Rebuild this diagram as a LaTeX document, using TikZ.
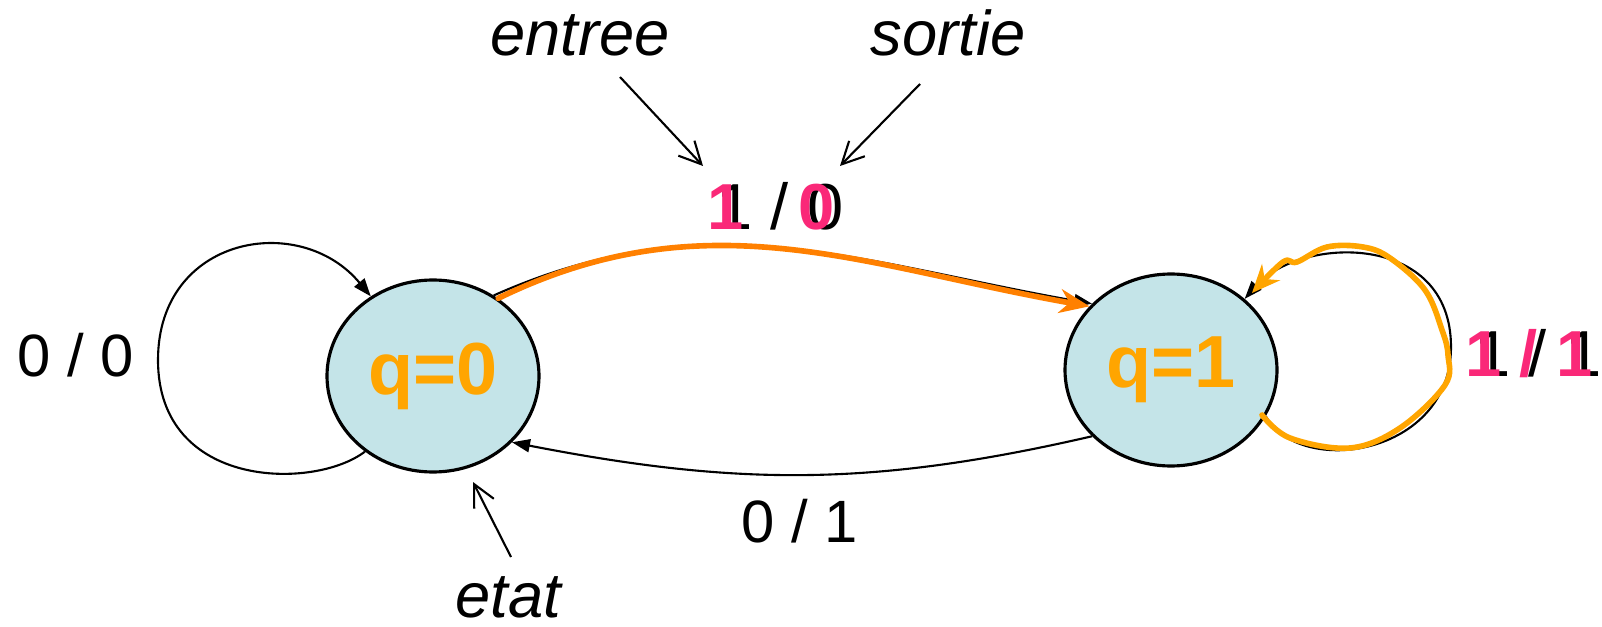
\documentclass[tikz,border=0pt]{standalone}
\usepackage{fontspec}
\setmainfont{Liberation Sans}
\usetikzlibrary{arrows, arrows.meta, shapes.geometric}
\definecolor{statefill}{RGB}{196,228,232}
\definecolor{stateorange}{RGB}{255,165,0}
\definecolor{pathorange}{RGB}{255,128,0}
\definecolor{markpink}{RGB}{250,40,120}

\begin{document}
\begin{tikzpicture}[
  state/.style={ellipse, draw, line width=0.9pt, fill=statefill,
    minimum width=2.12cm, minimum height=1.92cm, inner sep=0pt,
    text=stateorange, font=\fontsize{21}{21}\selectfont\bfseries},
  trans/.style={line width=0.6pt, -{Triangle[length=1.8mm,width=1.3mm]}},
  note/.style={line width=0.6pt, -{Straight Barb[length=2.2mm,width=2.2mm]}},
  lbl/.style={anchor=base, font=\fontsize{17}{17}\selectfont},
  biglbl/.style={anchor=base, font=\fontsize{18.5}{18.5}\selectfont},
  pinklbl/.style={anchor=base, text=markpink, font=\fontsize{18.5}{18.5}\selectfont\bfseries},
  word/.style={anchor=base, font=\fontsize{18}{18}\selectfont\itshape},
  hand/.style={line width=1.6pt, line cap=round, line join=round}
]
  \useasboundingbox (0,0) rectangle (16.02,6.26);

  % States
  \node[state] (q0) at (4.33,2.50) {q=0};
  \node[state] (q1) at (11.71,2.56) {q=1};

  % Coordinates
  \coordinate (L) at (1.58,2.66);
  \coordinate (R) at (14.51,2.79);
  \coordinate (entreeEnd) at (7.03,4.60);
  \coordinate (sortieEnd) at (8.40,4.60);
  \coordinate (etatEnd) at (4.73,1.44);
  \coordinate (entreeStart) at (6.20,5.49);
  \coordinate (sortieStart) at (9.20,5.42);
  \coordinate (etatStart) at (5.11,0.69);

  % Labels
  \node[lbl] (l00) at (0.76,2.49) {0 / 0};
  \node[lbl] (l01) at (8.00,0.84) {0 / 1};
  \node[biglbl] (l10) at (7.80,3.96) {1 / 0};
  \node[pinklbl] (l10p) at (7.71,3.96) {1 \phantom{/} 0};
  \node[biglbl] (l11) at (15.38,2.49) {1 / 1};
  \node[pinklbl] (l11p) at (15.29,2.49) {1 / 1};
  \node[word] (entree) at (5.80,5.70) {entree};
  \node[word] (sortie) at (9.48,5.70) {sortie};
  \node[word] (etat) at (5.08,0.09) {etat};

  % Transitions
  \draw[trans] (q0.228) .. controls (3.15,1.36) and (1.58,1.36) .. (L)
    .. controls (1.58,3.90) and (3.00,4.15) .. (q0.128);
  \draw[trans] (q0.53) to[out=24,in=170] (q1.140);
  \draw[trans] (q1.220) to[out=193,in=-11] (q0.-40);
  \draw[trans] (q1.-26) .. controls (13.00,1.48) and (14.51,1.70) .. (R)
    .. controls (14.51,3.95) and (13.00,3.90) .. (q1.44);

  % Annotations
  \draw[note] (entreeStart) -- (entreeEnd);
  \draw[note] (sortieStart) -- (sortieEnd);
  \draw[note] (etatStart) -- (etatEnd);

  % Hand marks
  \draw[hand, pathorange, -{Stealth[length=3mm,width=2.4mm]}]
    (q0.50) to[out=26,in=170] (q1.142);
  \draw[hand, stateorange, -{Stealth[length=2.8mm,width=2.4mm]}]
    plot[smooth, tension=0.6] coordinates {(12.62,2.11) (12.90,1.88) (13.50,1.78)
      (14.00,1.98) (14.45,2.41) (14.48,2.71) (14.42,2.96) (14.25,3.36)
      (13.90,3.68) (13.63,3.79) (13.27,3.79) (12.97,3.64) (12.83,3.64) (12.52,3.33)};
\end{tikzpicture}
\end{document}
